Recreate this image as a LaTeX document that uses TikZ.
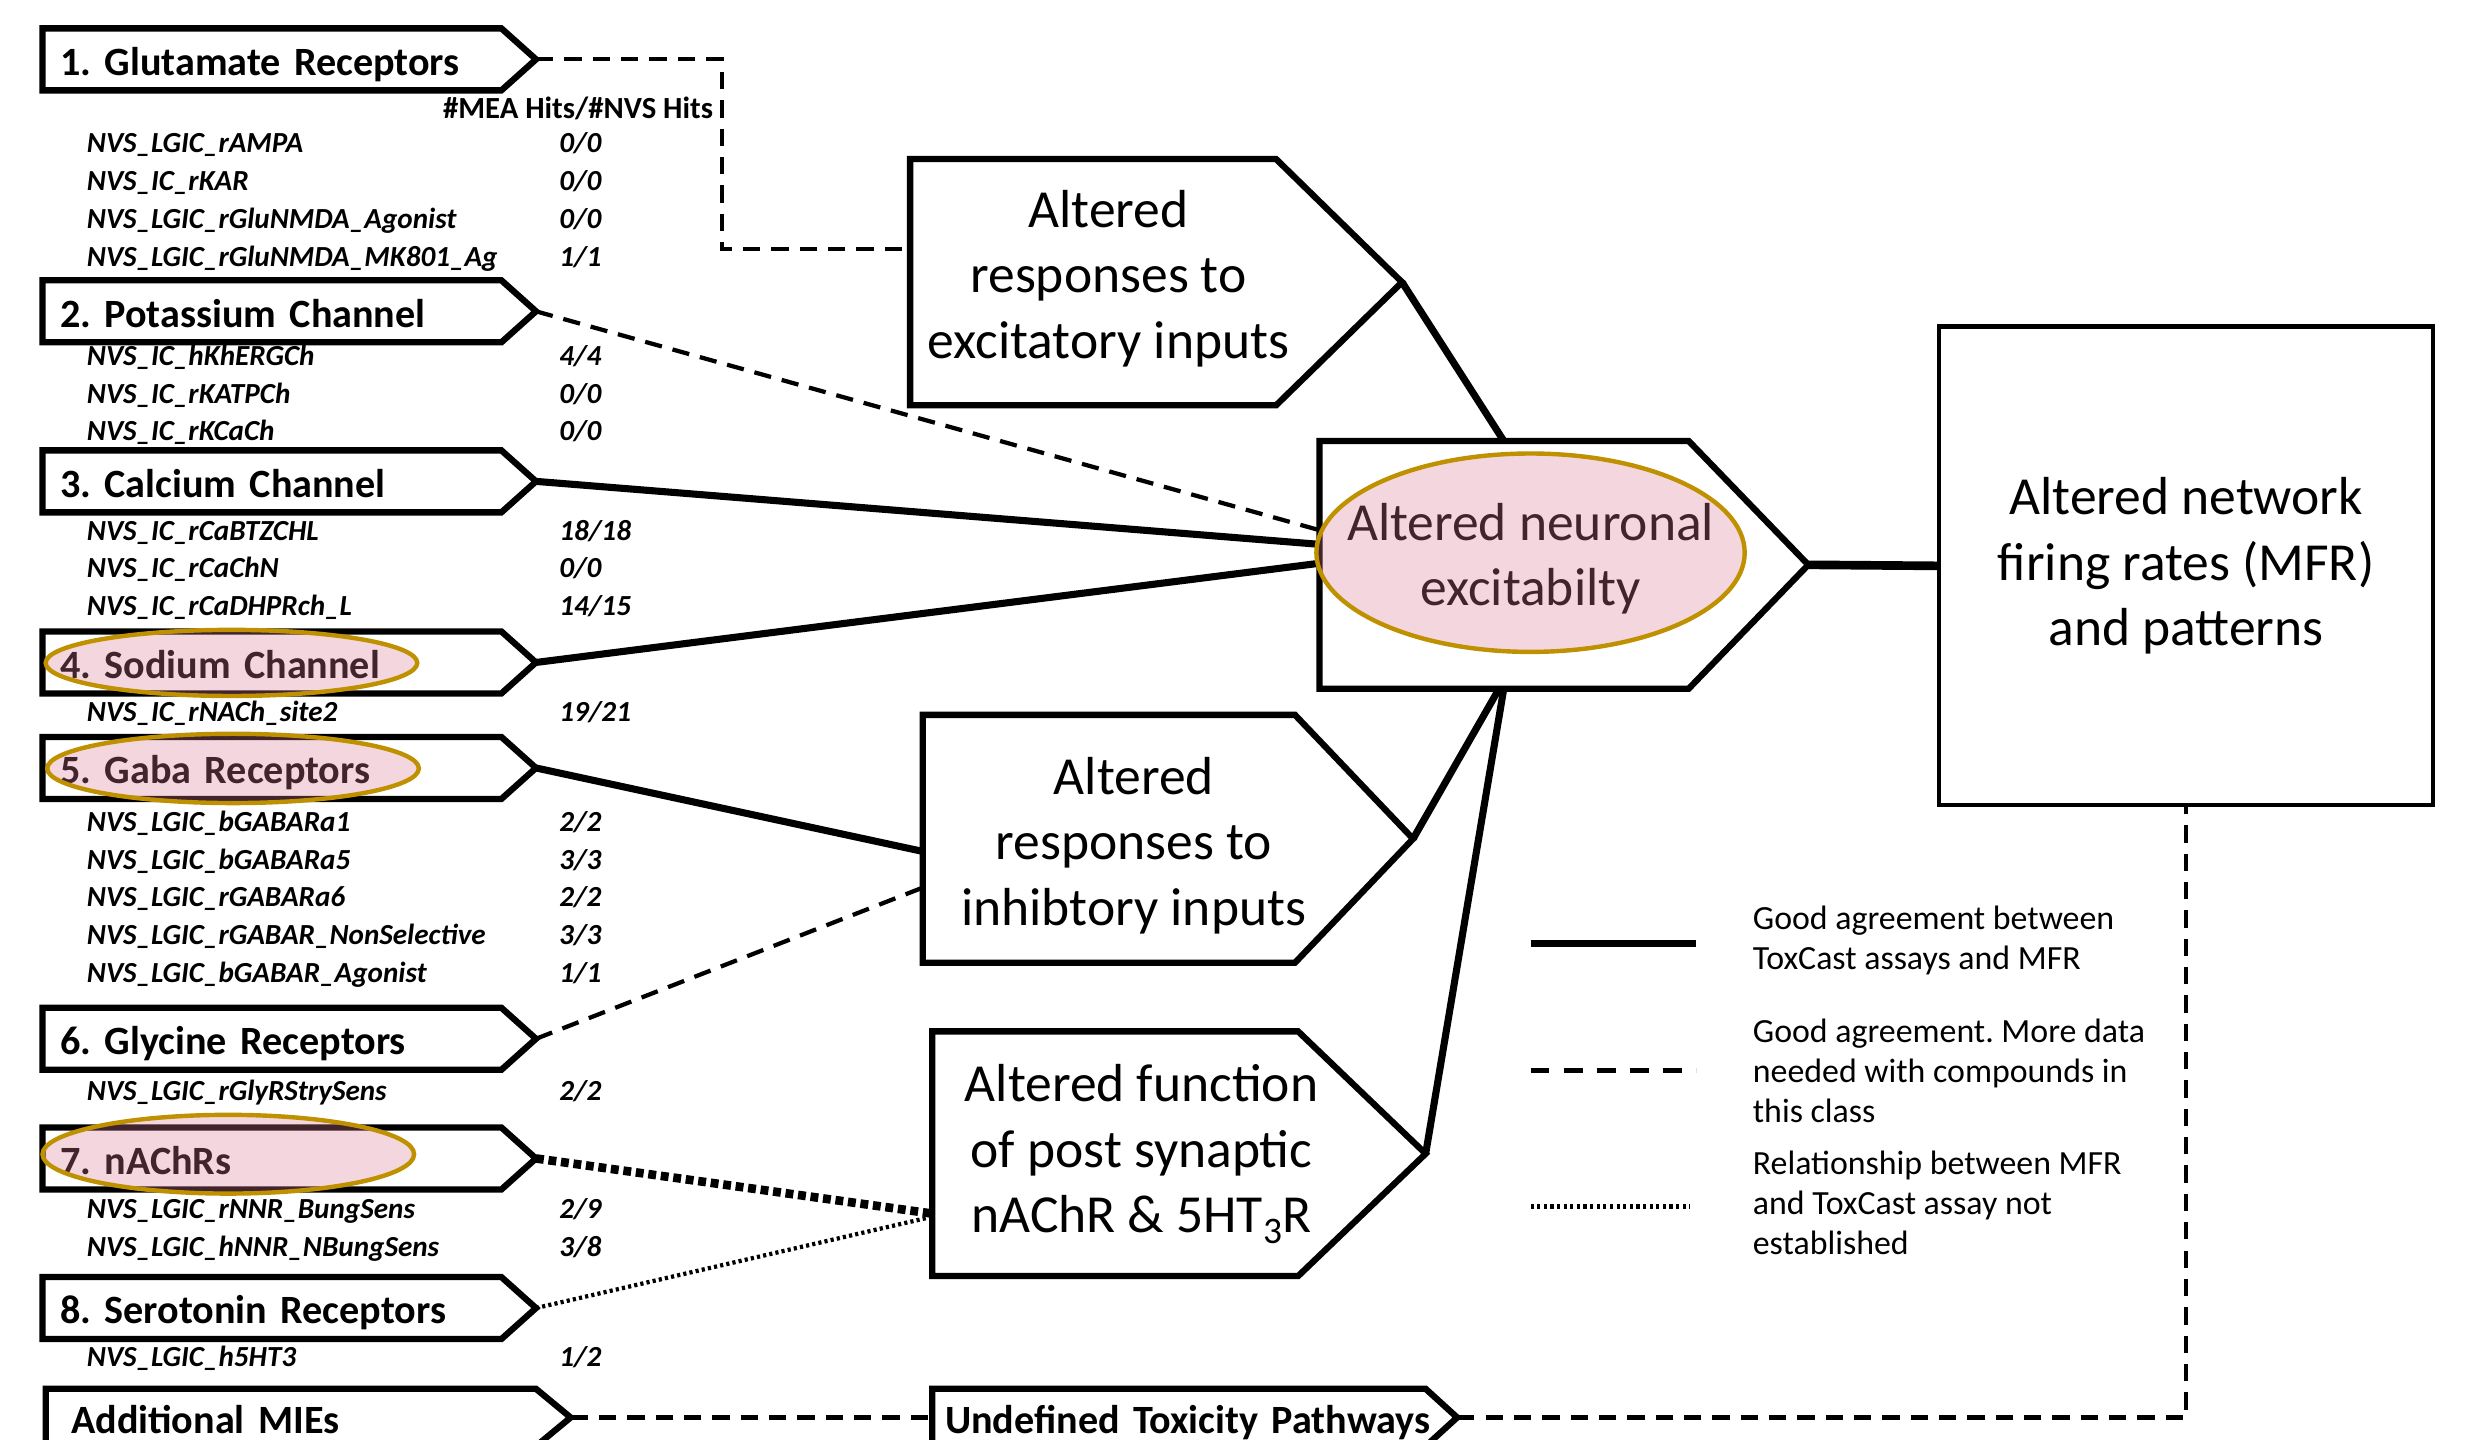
\documentclass[tikz,border=0pt]{standalone}
\usepackage{fontspec}
\setmainfont{Carlito}
\usetikzlibrary{calc}
\frenchspacing
\definecolor{hlpink}{RGB}{220,120,150}
\definecolor{hlgold}{RGB}{191,144,0}
\newcommand\pentaoutline[2]{\draw[boxline] (#1.north west) -- ($(#1.north east)+(-#2,0)$) -- (#1.east) -- ($(#1.south east)+(-#2,0)$) -- (#1.south west) -- cycle;}
\newcommand\assaygrp[1]{\fontsize{18.5}{24}\selectfont\bfseries\itshape\begin{tabular}[t]{@{}l@{}l@{}}#1\end{tabular}}
\newcommand\asy[2]{\makebox[300pt][l]{#1} & #2}
\tikzset{
  boxline/.style={line width=4pt, line join=miter},
  leftbox/.style={rectangle, anchor=north west, minimum height=39pt, inner xsep=11pt, inner ysep=0pt,
    text width=291pt, align=left, font=\fontsize{25.5}{30}\selectfont\bfseries, text height=20pt, text depth=0pt},
  botbox/.style={rectangle, anchor=north west, minimum height=36pt, inner ysep=0pt,
    align=left, font=\fontsize{25.5}{30}\selectfont\bfseries, text height=20pt, text depth=0pt},
  midbox/.style={rectangle, anchor=north west, inner sep=0pt},
  midtext/.style={align=center, font=\fontsize{34}{41.5}\selectfont, inner sep=0pt},
  lst/.style={anchor=base west, inner sep=0pt},
  lgd/.style={anchor=west, align=left, inner sep=0pt, font=\fontsize{21.5}{25.5}\selectfont},
  conn/.style={line width=4.5pt},
  dsh/.style={line width=2.7pt, dash pattern=on 11pt off 7pt},
  bigdots/.style={line width=5.5pt, dash pattern=on 5pt off 3pt},
  smalldots/.style={line width=2.7pt, dash pattern=on 2pt off 2pt},
  hl/.style={draw=hlgold, line width=2.8pt, fill=hlpink, fill opacity=0.3}
}
\begin{document}
\begin{tikzpicture}[x=1pt,y=-1pt]
\useasboundingbox (0,0) rectangle (1568,914);
\clip (0,0) rectangle (1568,914);

% left boxes
\node[leftbox] (glu) at (27,18) {1. Glutamate Receptors};
\node[leftbox] (pot) at (27,178) {2. Potassium Channel};
\node[leftbox] (cal) at (27,286) {3. Calcium Channel};
\node[leftbox] (sod) at (27,401) {4. Sodium Channel};
\node[leftbox] (gaba) at (27,468) {5. Gaba Receptors};
\node[leftbox] (gly) at (27,640) {6. Glycine Receptors};
\node[leftbox] (nachr) at (27,716) {7. nAChRs};
\node[leftbox] (sero) at (27,811) {8. Serotonin Receptors};
\node[botbox, minimum width=333pt, inner xsep=16pt, text width=301pt] (add) at (29,882) {Additional MIEs};
\foreach \n in {glu,pot,cal,sod,gaba,gly,nachr,sero,add}{\pentaoutline{\n}{22}}

% assay lists
\node[anchor=base east, inner sep=0pt, font=\fontsize{19.5}{20}\selectfont\bfseries] (hdr) at (453,75.5) {\#MEA Hits/\#NVS Hits};
\node[lst] (g1) at (55,97) {\assaygrp{\asy{NVS\_LGIC\_rAMPA}{0/0}\\ \asy{NVS\_IC\_rKAR}{0/0}\\ \asy{NVS\_LGIC\_rGluNMDA\_Agonist}{0/0}\\ \asy{NVS\_LGIC\_rGluNMDA\_MK801\_Ag}{1/1}}};
\node[lst] (g2) at (55,232) {\assaygrp{\asy{NVS\_IC\_hKhERGCh}{4/4}\\ \asy{NVS\_IC\_rKATPCh}{0/0}\\ \asy{NVS\_IC\_rKCaCh}{0/0}}};
\node[lst] (g3) at (55,343) {\assaygrp{\asy{NVS\_IC\_rCaBTZCHL}{18/18}\\ \asy{NVS\_IC\_rCaChN}{0/0}\\ \asy{NVS\_IC\_rCaDHPRch\_L}{14/15}}};
\node[lst] (g4) at (55,458) {\assaygrp{\asy{NVS\_IC\_rNACh\_site2}{19/21}}};
\node[lst] (g5) at (55,528) {\assaygrp{\asy{NVS\_LGIC\_bGABARa1}{2/2}\\ \asy{NVS\_LGIC\_bGABARa5}{3/3}\\ \asy{NVS\_LGIC\_rGABARa6}{2/2}\\ \asy{NVS\_LGIC\_rGABAR\_NonSelective}{3/3}\\ \asy{NVS\_LGIC\_bGABAR\_Agonist}{1/1}}};
\node[lst] (g6) at (55,699) {\assaygrp{\asy{NVS\_LGIC\_rGlyRStrySens}{2/2}}};
\node[lst] (g7) at (55,774) {\assaygrp{\asy{NVS\_LGIC\_rNNR\_BungSens}{2/9}\\ \asy{NVS\_LGIC\_hNNR\_NBungSens}{3/8}}};
\node[lst] (g8) at (55,868) {\assaygrp{\asy{NVS\_LGIC\_h5HT3}{1/2}}};

% middle boxes
\node[midbox, minimum width=312pt, minimum height=156pt] (exc) at (578,101) {};
\pentaoutline{exc}{80}
\node[midtext] (exct) at (704,177) {Altered\\responses to\\excitatory inputs};
\node[midbox, minimum width=310pt, minimum height=157pt] (neu) at (838,280) {};
\pentaoutline{neu}{76}
\node[midbox, minimum width=311pt, minimum height=157pt] (inh) at (586,454) {};
\pentaoutline{inh}{75}
\node[midtext] (inht) at (720,537) {Altered\\responses to\\inhibtory inputs};
\node[midbox, minimum width=313pt, minimum height=155pt] (post) at (592,655) {};
\pentaoutline{post}{81}
\node[midtext] (postt) at (725,733) {Altered function\\of post synaptic\\nAChR \& 5HT\textsubscript{3}R};
\node[botbox, minimum width=333pt, inner xsep=8pt, text width=317pt] (undef) at (592,882) {Undefined Toxicity Pathways};
\pentaoutline{undef}{20}
\node[draw, line width=2.7pt, rectangle, anchor=north west, minimum width=314pt, minimum height=304pt, align=center, font=\fontsize{34}{41.5}\selectfont] (mfr) at (1230,206) {Altered network\\firing rates (MFR)\\and patterns};

% connectors
\draw[dsh] (glu.east) -- ++(118,0) |- ($(exc.west)+(0,-21)$);
\draw[dsh] (pot.east) -- ($(neu.west)+(0,-22)$);
\draw[conn] (cal.east) -- ($(neu.west)+(0,-13)$);
\draw[conn] (sod.east) -- ($(neu.west)+(0,-1)$);
\draw[conn] (gaba.east) -- ($(inh.west)+(0,8)$);
\draw[dsh] (gly.east) -- ($(inh.west)+(0,31)$);
\draw[bigdots] (nachr.east) -- ($(post.west)+(0,38)$);
\draw[smalldots] (sero.east) -- ($(post.west)+(0,40)$);
\draw[dsh] (add.east) -- (undef.west);
\draw[dsh] (undef.east) -| (mfr.south);
\draw[conn] (exc.east) -- ($(neu.north west)+(117,0)$);
\draw[conn] (inh.east) -- ($(neu.south west)+(114,0)$);
\draw[conn] (post.east) -- ($(neu.south west)+(117,0)$);
\draw[conn, line width=5.5pt] (neu.east) -- (mfr.west);

% highlights
\draw[hl] (147,421) ellipse [x radius=118pt, y radius=21pt];
\draw[hl] (148,488) ellipse [x radius=118pt, y radius=22pt];
\draw[hl] (145,733) ellipse [x radius=118pt, y radius=25pt];
\node[midtext] (neut) at (972,355) {Altered neuronal\\excitabilty};
\draw[hl] (972,351) ellipse [x radius=136pt, y radius=63pt];

% legend
\draw[line width=4.5pt] (972,599) -- (1077,599);
\draw[line width=3pt, dash pattern=on 12pt off 9pt] (972,680) -- (1077,680);
\draw[line width=3pt, dash pattern=on 2pt off 2.2pt] (972,766) -- (1073,766);
\node[lgd] (lg1) at (1113,597.5) {Good agreement between\\ToxCast assays and MFR};
\node[lgd] (lg2) at (1113,680) {Good agreement. More data\\needed with compounds in\\this class};
\node[lgd] (lg3) at (1113,764) {Relationship between MFR\\and ToxCast assay not\\established};
\end{tikzpicture}
\end{document}
